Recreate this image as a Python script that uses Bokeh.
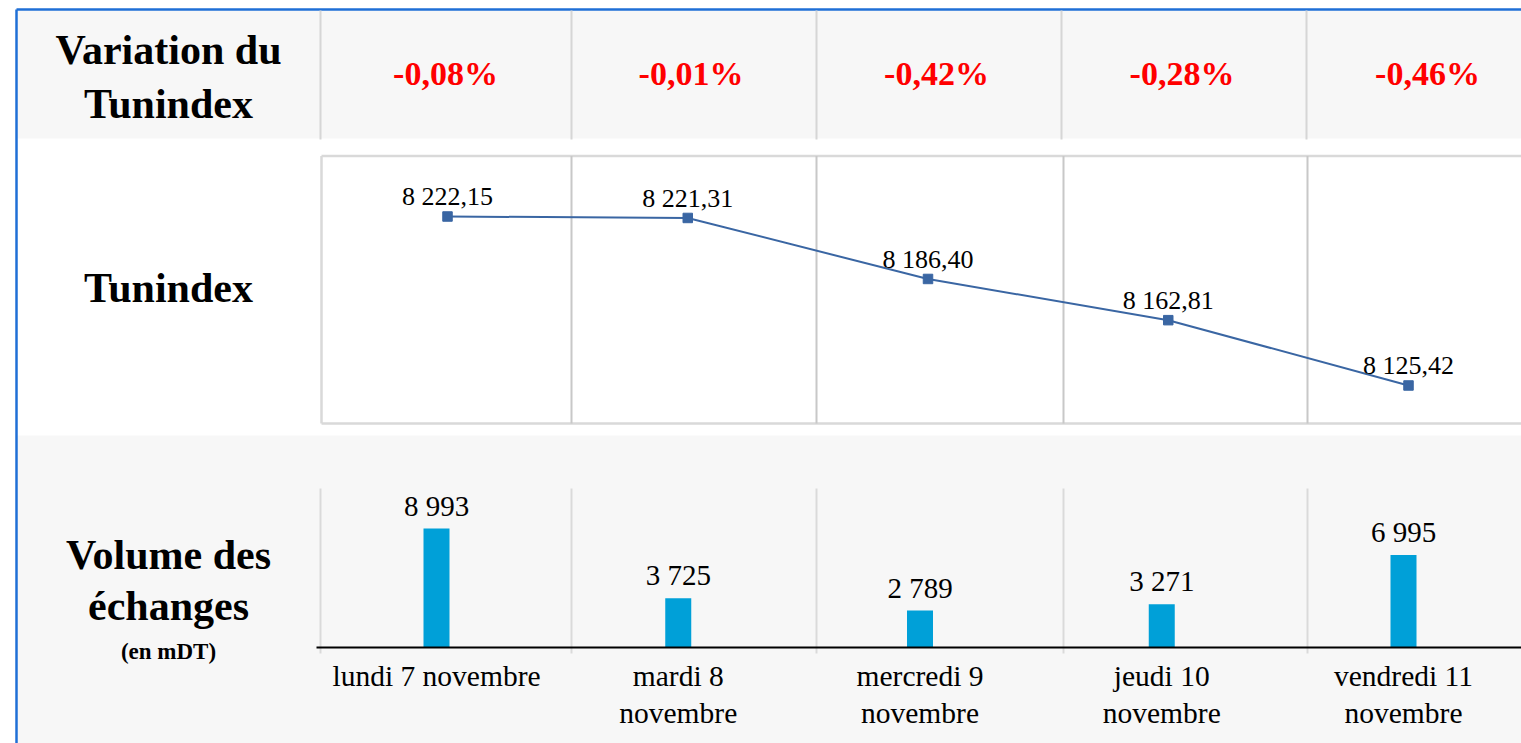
from bokeh.plotting import figure
from bokeh.models import Range1d
from bokeh.core.properties import value
from bokeh.embed import file_html
from bokeh.resources import INLINE

# ---------------- data ----------------
days_line1 = ["lundi 7 novembre", "mardi 8", "mercredi 9", "jeudi 10", "vendredi 11"]
days_line2 = ["", "novembre", "novembre", "novembre", "novembre"]
variation_pct = [-0.08, -0.01, -0.42, -0.28, -0.46]
tunindex = [8222.15, 8221.31, 8186.40, 8162.81, 8125.42]
volume = [8993, 3725, 2789, 3271, 6995]


def fr_num(v, d):
    s = f"{abs(v):,.{d}f}".replace(",", " ").replace(".", ",")
    return ("-" if v < 0 else "") + s


idx = list(range(len(days_line1)))
var_txt = [fr_num(v, 2) + "%" for v in variation_pct]
idx_txt = [fr_num(v, 2) for v in tunindex]
vol_txt = [fr_num(v, 0) for v in volume]

# ---------------- layout (picture pixel space) ----------------
W, H = 1521, 743
L, R, T, B = 0, W, 0, H
SERIF = value("Liberation Serif")
KB = 0.38  # baseline correction (fraction of font size)

p = figure(width=W, height=H, x_range=Range1d(L, R), y_range=Range1d(B, T),
           x_axis_type=None, y_axis_type=None, output_backend="svg",
           toolbar_location=None, min_border=0, outline_line_color=None,
           background_fill_color="white", border_fill_color="white")
p.grid.visible = False


def xr(c0, step):
    return Range1d((L - c0) / step, (R - c0) / step)


def txt(size, extra=0.0, bold=False, color="black"):
    return dict(text_font=SERIF, text_font_size=f"{size}px",
                text_font_style="bold" if bold else "normal",
                text_color=color, text_align="center", text_baseline="alphabetic",
                y_offset=extra - KB * size)


# category scales for the two charts and the header table
p.extra_x_ranges = {
    "line": xr(447, 240.25),
    "bar": xr(436, 241.75),
    "tbl": xr(445, 245.5),
}
# value scales
idx_px0, idx_v0, idx_k = 216, 8222.15, 1.747
vol_px0, vol_k = 647, 0.01323
p.extra_y_ranges = {
    "idx": Range1d(idx_v0 - (B - idx_px0) / idx_k, idx_v0 + (idx_px0 - T) / idx_k),
    "vol": Range1d(-(B - vol_px0) / vol_k, (vol_px0 - T) / vol_k),
}

# backgrounds
p.quad(left=[17, 17], right=[R, R], top=[10, 435], bottom=[138, B],
       fill_color="#f7f7f7", line_color=None)

# blue frame
p.segment(x0=[16, 16], y0=[9, 9], x1=[R, 16], y1=[9, B],
          line_color="#1f6fd6", line_width=2.5)

# header dividers
hd = [320, 571, 816, 1061, 1306]
p.segment(x0=hd, y0=[10] * 5, x1=hd, y1=[139] * 5, line_color="#d6d6d6", line_width=2)

# middle box
p.segment(x0=[321, 321, 321], y0=[155.5, 423, 155.5], x1=[R, R, 321], y1=[155.5, 423, 423],
          line_color="#d9d9d9", line_width=2.5)
md = [571, 816, 1063, 1307]
p.segment(x0=md, y0=[155.5] * 4, x1=md, y1=[423] * 4, line_color="#c8c8c8", line_width=2)

# lower chart verticals
ld = [320, 571, 816, 1063, 1307]
p.segment(x0=ld, y0=[488] * 5, x1=ld, y1=[653] * 5, line_color="#dadada", line_width=2)

# row titles
p.text(x=[168, 168, 168, 168, 168], y=[65, 119, 303, 570, 621],
       text=["Variation du", "Tunindex", "Tunindex", "Volume des", "échanges"],
       **txt(42, bold=True))
p.text(x=[168], y=[660], text=["(en mDT)"], **txt(23, bold=True))

# variation row
p.text(x=idx, y=[86] * 5, text=var_txt, x_range_name="tbl",
       **txt(34, bold=True, color="#ff0000"))

# Tunindex line
LINE_C = "#3A66A3"
p.line(x=idx, y=tunindex, x_range_name="line", y_range_name="idx",
       line_color=LINE_C, line_width=2)
p.scatter(x=idx, y=tunindex, x_range_name="line", y_range_name="idx",
          marker="square", size=9.5, fill_color=LINE_C, line_color=LINE_C)
p.text(x=idx, y=tunindex, text=idx_txt, x_range_name="line", y_range_name="idx",
       **txt(26, extra=-10))

# volume bars
p.vbar(x=idx, top=volume, bottom=0, width=26 / 241.75, x_range_name="bar",
       y_range_name="vol", fill_color="#00A0D8", line_color=None)
p.text(x=idx, y=volume, text=vol_txt, x_range_name="bar", y_range_name="vol",
       **txt(29, extra=-12))
p.segment(x0=[316], y0=[0], x1=[R], y1=[0], y_range_name="vol",
          line_color="black", line_width=2)

# category labels
p.text(x=idx, y=[687] * 5, text=days_line1, x_range_name="bar", **txt(29.5))
p.text(x=idx, y=[724] * 5, text=days_line2, x_range_name="bar", **txt(29.5))

open("out.html", "w").write(file_html(p, INLINE))
